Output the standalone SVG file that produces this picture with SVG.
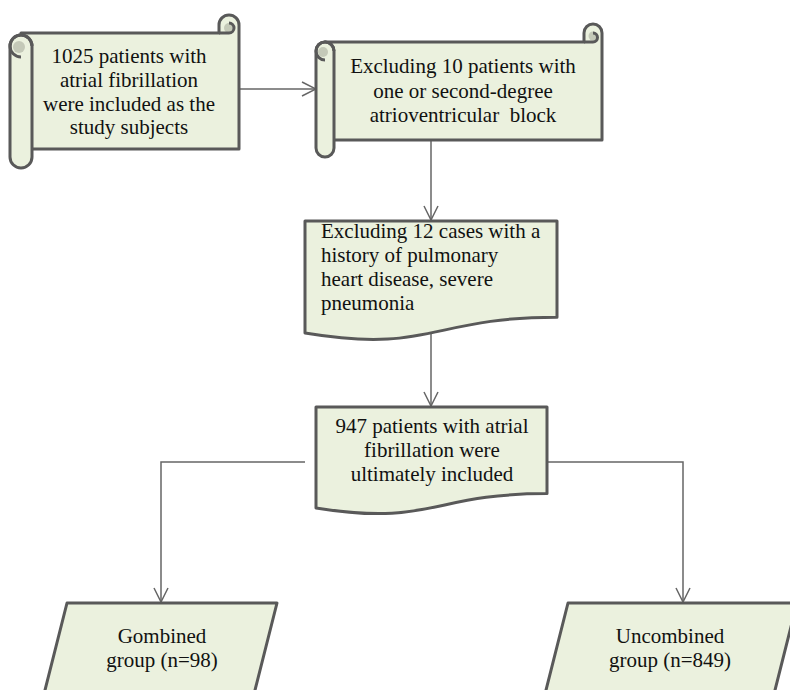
<svg xmlns="http://www.w3.org/2000/svg" width="790" height="690" viewBox="0 0 790 690">
<defs>
<style>
.box{fill:#EBF1DE;stroke:#595959;stroke-width:3;stroke-linejoin:round}
.shade{fill:#C4C9B8;stroke:none}
.curl{fill:none;stroke:#595959;stroke-width:3}
.conn{fill:none;stroke:#666666;stroke-width:1.5}
.t{font-family:"Liberation Serif","Times New Roman",serif;font-size:21px;fill:#111111}
.c{text-anchor:middle}
</style>
<marker id="arr" viewBox="0 0 16 16" refX="15" refY="8" markerWidth="16" markerHeight="16" markerUnits="userSpaceOnUse" orient="auto">
<path d="M1,1 L15,8 L1,15" fill="none" stroke="#666666" stroke-width="1.5"/>
</marker>
</defs>
<rect width="790" height="690" fill="#ffffff"/>

<g id="connectors">
<line class="conn" x1="240" y1="89" x2="316" y2="89" marker-end="url(#arr)"/>
<line class="conn" x1="431" y1="140" x2="431" y2="220" marker-end="url(#arr)"/>
<line class="conn" x1="431" y1="332" x2="431" y2="406" marker-end="url(#arr)"/>
<polyline class="conn" points="305,462 161,462 161,602" marker-end="url(#arr)"/>
<polyline class="conn" points="548,462 683,462 683,602" marker-end="url(#arr)"/>
</g>

<g id="n1">
<path class="box" d="M21,33 H219 V25 A10,10 0 0 1 239,25 V149 H21 Z"/>
<circle class="shade" cx="229" cy="28" r="5"/>
<path class="curl" d="M219,33 H229 A5,5 0 0 0 229,23"/>
<rect class="box" x="10" y="35" width="22" height="133" rx="11"/>
<circle class="shade" cx="19" cy="47" r="6"/>
<path class="curl" d="M21,57 A11,11 0 1 1 32,46"/>
<text class="t c" x="129" y="63">1025 patients with</text>
<text class="t c" x="129" y="87">atrial fibrillation</text>
<text class="t c" x="129" y="111">were included as the</text>
<text class="t c" x="129" y="134">study subjects</text>
</g>

<g id="n2">
<path class="box" d="M325,42 H584 V33 A9,9 0 0 1 602,33 V140 H325 Z"/>
<circle class="shade" cx="593" cy="36" r="4.5"/>
<path class="curl" d="M584,42 H593 A4.5,4.5 0 0 0 593,33"/>
<rect class="box" x="316" y="42" width="18" height="115" rx="9"/>
<circle class="shade" cx="323" cy="52" r="5"/>
<path class="curl" d="M325,60 A9,9 0 1 1 334,51"/>
<text class="t c" x="463" y="73">Excluding 10 patients with</text>
<text class="t c" x="463" y="98">one or second-degree</text>
<text class="t c" x="463" y="122" xml:space="preserve">atrioventricular  block</text>
</g>

<g id="n3">
<path class="box" d="M305,221 H557 V317.2 C431,317.2 431,353.9 305,333.1 Z"/>
<text class="t" x="321" y="238">Excluding 12 cases with a</text>
<text class="t" x="321" y="262">history of pulmonary</text>
<text class="t" x="321" y="286">heart disease, severe</text>
<text class="t" x="321" y="310">pneumonia</text>
</g>

<g id="n4">
<path class="box" d="M316,407 H547 V493.6 C431.5,493.6 431.5,526.6 316,507.9 Z"/>
<text class="t c" x="432" y="433">947 patients with atrial</text>
<text class="t c" x="432" y="457">fibrillation were</text>
<text class="t c" x="432" y="481">ultimately included</text>
</g>

<g id="n5">
<polygon class="box" points="67,603 277,603 252.5,700 42.5,700"/>
<text class="t c" x="162" y="643">Gombined</text>
<text class="t c" x="162" y="667">group (n=98)</text>
</g>

<g id="n6">
<polygon class="box" points="568,603 797,603 772.5,700 543.5,700"/>
<text class="t c" x="670" y="643">Uncombined</text>
<text class="t c" x="670" y="667">group (n=849)</text>
</g>
</svg>
